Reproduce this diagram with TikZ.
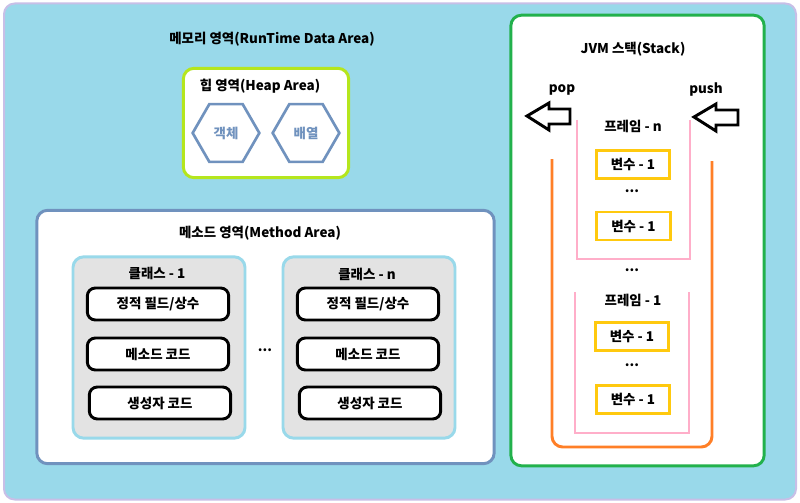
\documentclass[tikz,border=0pt]{standalone}
\usepackage{fontspec}
\setmainfont{Noto Sans CJK KR}
\usepackage{tikz}
\usetikzlibrary{shapes.geometric,positioning}
\definecolor{sky}{HTML}{99D9EA}
\definecolor{lav}{HTML}{C8BFE7}
\definecolor{lime}{HTML}{B5E61D}
\definecolor{steel}{HTML}{7092BE}
\definecolor{grn}{HTML}{22B14C}
\definecolor{orng}{HTML}{FF7F27}
\definecolor{pnk}{HTML}{FFAEC9}
\definecolor{ylw}{HTML}{FFC90E}
\definecolor{gry}{HTML}{E3E3E3}

\begin{document}
\begin{tikzpicture}[
  x=0.75pt, y=-0.75pt,
  font=\fontsize{10.1}{12}\selectfont\bfseries,
  area/.style={draw,fill=white,rounded corners=8pt,line width=2.2pt,inner sep=0pt},
  hexa/.style={regular polygon,regular polygon sides=6,draw=steel,line width=2pt,
               minimum size=50pt,inner sep=0pt,text=steel},
  cls/.style={draw=sky,fill=gry,rounded corners=8pt,line width=2.2pt,
              minimum width=129pt,minimum height=136pt,inner sep=0pt},
  part/.style={draw=black,fill=white,rounded corners=6pt,line width=2.2pt,
               minimum width=106pt,minimum height=24pt,inner sep=0pt},
  var/.style={draw=ylw,fill=white,line width=2.2pt,minimum width=55pt,
              minimum height=21pt,inner sep=0pt},
  hollow/.style={draw=black,line width=2.2pt,fill=white},
]
\useasboundingbox (0,0) rectangle (800,503);

% ---- background
\node[draw=lav,fill=sky,rounded corners=8pt,line width=1.5pt,
      minimum width=594pt,minimum height=372pt] (mem) at (400,251.5) {};
\node (memt) at (272,39) {메모리 영역(RunTime Data Area)};

% ---- heap
\node[area,draw=lime,minimum width=124pt,minimum height=82pt] (heap) at (266,123) {};
\node (heapt) at (260,86) {힙 영역(Heap Area)};
\node[hexa] (obj) at (226,133) {객체};
\node[hexa] (arr) at (306,133) {배열};

% ---- method area
\node[area,draw=steel,minimum width=343pt,minimum height=190pt] (meth) at (265.5,337) {};
\node (metht) at (260,233) {메소드 영역(Method Area)};
\node[cls] (c1) at (159,347.5) {};
\node[cls] (cn) at (369,347.5) {};
\node (c1t) at (157,273) {클래스 - 1};
\node (cnt) at (367,274) {클래스 - n};
\node[part] (c1a) at (158,304) {정적 필드/상수};
\node[part] (c1b) at (158,354) {메소드 코드};
\node[part] (c1c) at (160,403) {생성자 코드};
\node[part] (cna) at (368,304) {정적 필드/상수};
\node[part] (cnb) at (368,354) {메소드 코드};
\node[part] (cnc) at (370,403) {생성자 코드};
\node (cdots) at (265,350) {...};

% ---- jvm stack
\node[area,draw=grn,minimum width=190pt,minimum height=338pt] (stk) at (637.5,240.5) {};
\node (stkt) at (633,49) {JVM 스택(Stack)};
\node (pop) at (562,90) {pop};
\node (push) at (706,90) {push};
\coordinate (popt) at (527,116);
\coordinate (pusht) at (694,117);
\draw[hollow] (popt) -- ++(22,-13) -- ++(0,6) -- ++(21,0) -- ++(0,15)
  -- ++(-21,0) -- ++(0,6) -- cycle;
\draw[hollow] (pusht) -- ++(22,-13) -- ++(0,6) -- ++(22,0) -- ++(0,15)
  -- ++(-22,0) -- ++(0,6) -- cycle;

% stack container and frames
\draw[orng,line width=2.2pt,rounded corners=8pt] (552,159) |- (712,447) -- (712,161);
\draw[pnk,line width=2.2pt] (577,120) |- (690,259) -- (690,120);
\draw[pnk,line width=2.2pt] (575,292) |- (689,433) -- (689,292);

\node (frn) at (633,126) {프레임 - n};
\node[var] (vn1) at (633,164.5) {변수 - 1};
\node (vndots) at (632,191) {...};
\node[var] (vn2) at (633.5,226) {변수 - 1};
\node (fdots) at (632,270) {...};
\node (fr1) at (633,300) {프레임 - 1};
\node[var] (v11) at (632,336.5) {변수 - 1};
\node (v1dots) at (632,365) {...};
\node[var] (v12) at (633,399.5) {변수 - 1};
\end{tikzpicture}
\end{document}
